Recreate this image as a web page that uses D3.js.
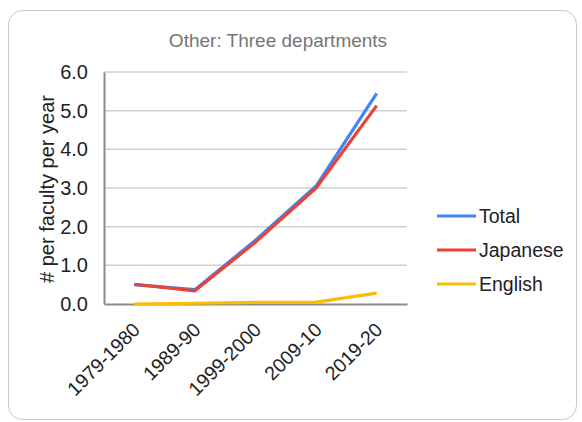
<!DOCTYPE html>
<html>
<head>
<meta charset="utf-8">
<script src="https://cdn.jsdelivr.net/npm/d3@7"></script>
<style>
  html, body { margin: 0; padding: 0; background: #fff; }
  svg { display: block; font-family: "Liberation Sans", Arial, sans-serif; }
</style>
</head>
<body>
<svg id="chart" width="582" height="422"></svg>
<script>
// Publications per faculty member per year, by decade
const categories = ["1979-1980", "1989-90", "1999-2000", "2009-10", "2019-20"];
const totalValues = [0.50, 0.37, 1.65, 3.05, 5.45];
const japaneseValues = [0.51, 0.34, 1.60, 3.00, 5.13];
const englishValues = [0.00, 0.02, 0.04, 0.05, 0.28];
const yTicks = [0, 1, 2, 3, 4, 5, 6];
const seriesNames = ["Total", "Japanese", "English"];
const seriesColors = ["#4285F4", "#EA4335", "#FBBC04"];

const series = [
  { name: seriesNames[0], values: totalValues, color: seriesColors[0] },
  { name: seriesNames[1], values: japaneseValues, color: seriesColors[1] },
  { name: seriesNames[2], values: englishValues, color: seriesColors[2] }
];

const svg = d3.select("#chart");
const FONT = "Liberation Sans, Arial, sans-serif";

// card outline
svg.append("rect")
  .attr("x", 8.5).attr("y", 10.5)
  .attr("width", 568).attr("height", 409)
  .attr("rx", 14)
  .attr("fill", "#fff")
  .attr("stroke", "#c8c8c8")
  .attr("stroke-width", 1);

const x = d3.scaleBand().domain(categories).range([104, 407]);
const y = d3.scaleLinear().domain([0, 6]).range([304, 72]);

// title
svg.append("text")
  .attr("x", 278).attr("y", 47)
  .attr("text-anchor", "middle")
  .attr("fill", "#757575")
  .attr("font-size", 19)
  .text("Other: Three departments");

// gridlines
svg.append("g")
  .selectAll("line")
  .data(yTicks.filter(d => d > 0))
  .join("line")
  .attr("x1", 104).attr("x2", 407)
  .attr("y1", d => y(d)).attr("y2", d => y(d))
  .attr("stroke", "#d0d0d0")
  .attr("stroke-width", 1.5);

// y axis
const yAxis = svg.append("g")
  .attr("transform", "translate(104,0)")
  .call(d3.axisLeft(y).tickValues(yTicks).tickFormat(d3.format(".1f")).tickSize(0).tickPadding(16));
yAxis.select(".domain").attr("stroke", "#8a8a8a").attr("stroke-width", 2);
yAxis.selectAll("text")
  .attr("font-size", 20)
  .attr("fill", "#222")
  .attr("font-family", FONT);

// y axis title
svg.append("text")
  .attr("transform", "translate(54,189) rotate(-90)")
  .attr("text-anchor", "middle")
  .attr("font-size", 20)
  .attr("fill", "#222")
  .text("# per faculty per year");

// x axis
const xAxis = svg.append("g")
  .attr("transform", "translate(0,304)")
  .call(d3.axisBottom(x).tickSize(0).tickPadding(0));
xAxis.select(".domain").attr("stroke", "#8a8a8a").attr("stroke-width", 2);
xAxis.selectAll("text")
  .attr("font-size", 19.5)
  .attr("fill", "#222")
  .attr("font-family", FONT)
  .attr("text-anchor", "end")
  .attr("dy", null)
  .attr("y", 0)
  .attr("transform", "translate(7,27) rotate(-45)");

// lines (Total first so Japanese sits on top where they overlap)
const line = d3.line()
  .x((d, i) => x(categories[i]) + x.bandwidth() / 2)
  .y(d => y(d));

svg.append("g")
  .selectAll("path")
  .data([series[2], series[0], series[1]])
  .join("path")
  .attr("d", d => line(d.values))
  .attr("fill", "none")
  .attr("stroke", d => d.color)
  .attr("stroke-width", 3.2)
  .attr("stroke-linejoin", "round");

// legend
const legend = svg.append("g");
series.forEach((s, i) => {
  const ly = 216 + i * 34;
  legend.append("line")
    .attr("x1", 437).attr("x2", 476)
    .attr("y1", ly).attr("y2", ly)
    .attr("stroke", s.color)
    .attr("stroke-width", 3.2);
  legend.append("text")
    .attr("x", 479).attr("y", ly + 7)
    .attr("font-size", 19.5)
    .attr("fill", "#222")
    .text(s.name);
});
</script>
</body>
</html>
